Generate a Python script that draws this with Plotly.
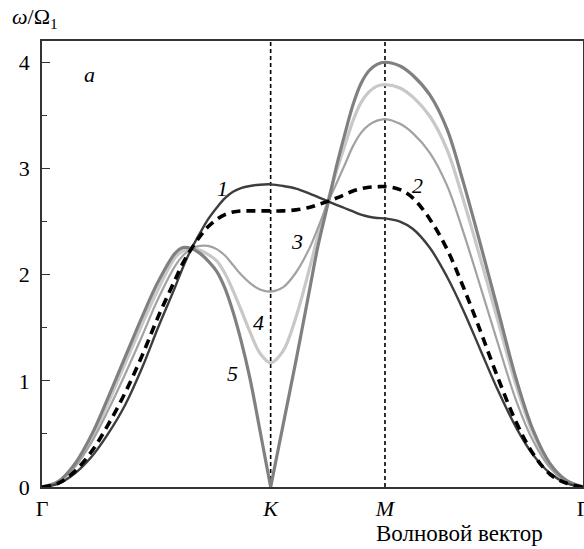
import plotly.graph_objects as go

# Path coordinate along Γ–K–M–Γ (|ΓK| = 4/3, |KM| = 2/3, |MΓ| = 2/√3)
q = [0.0, 0.0933, 0.1924, 0.2916, 0.3849, 0.4840, 0.5831, 0.6764, 0.7756, 0.8222,
     0.8718, 0.9213, 0.9680, 1.0187, 1.0671, 1.1138, 1.1604, 1.2129, 1.2712, 1.3333,
     1.4054, 1.4811, 1.5570, 1.6094, 1.6677, 1.7202, 1.7669, 1.8135, 1.8602, 1.9068,
     1.9535, 2.0,
     2.0875, 2.1634, 2.2625, 2.3617, 2.4550, 2.5541, 2.6532, 2.7681, 2.8649, 2.9623,
     3.0597, 3.1547]
K_INDEX = 19

tick_pos = [0.0, 1.3333, 2.0, 3.1547]
tick_text = ["Γ", "<i>K</i>", "<i>M</i>", "Γ"]

curve1 = [0, 0.03, 0.13, 0.29, 0.50, 0.77, 1.12, 1.50, 1.88, 2.07,
          2.245, 2.39, 2.52, 2.63, 2.72, 2.78, 2.815, 2.835, 2.847, 2.85,
          2.835, 2.81, 2.765, 2.73, 2.69, 2.655, 2.625, 2.595, 2.565, 2.545, 2.533, 2.53,
          2.50, 2.43, 2.25, 1.98, 1.67, 1.30, 0.93, 0.55, 0.30, 0.13, 0.035, 0]
curve2 = [0, 0.034, 0.15, 0.34, 0.585, 0.885, 1.235, 1.60, 1.95, 2.11,
          2.245, 2.36, 2.45, 2.52, 2.565, 2.59, 2.60, 2.60, 2.60, 2.60,
          2.60, 2.61, 2.632, 2.659, 2.69, 2.723, 2.755, 2.788, 2.809, 2.822, 2.827, 2.829,
          2.80, 2.72, 2.52, 2.24, 1.89, 1.48, 1.05, 0.60, 0.31, 0.12, 0.035, 0]
curve3 = [0, 0.043, 0.19, 0.43, 0.72, 1.06, 1.42, 1.77, 2.08, 2.18,
          2.245, 2.27, 2.27, 2.24, 2.18, 2.09, 2.00, 1.92, 1.86, 1.84,
          1.88, 2.02, 2.24, 2.44, 2.68, 2.87, 3.04, 3.21, 3.335, 3.41, 3.45, 3.465,
          3.42, 3.33, 3.145, 2.84, 2.41, 1.90, 1.38, 0.80, 0.43, 0.18, 0.05, 0]
curve4 = [0, 0.047, 0.21, 0.47, 0.79, 1.16, 1.53, 1.86, 2.16, 2.225,
          2.245, 2.23, 2.19, 2.13, 2.01, 1.85, 1.67, 1.46, 1.26, 1.17,
          1.28, 1.60, 2.04, 2.37, 2.70, 2.99, 3.22, 3.45, 3.62, 3.72, 3.775, 3.79,
          3.758, 3.671, 3.489, 3.178, 2.714, 2.164, 1.596, 0.939, 0.499, 0.208, 0.057, 0]
curve5 = [0, 0.05, 0.22, 0.50, 0.84, 1.22, 1.60, 1.93, 2.20, 2.255,
          2.245, 2.20, 2.13, 2.03, 1.87, 1.65, 1.38, 1.02, 0.53, 0,
          0.58, 1.19, 1.83, 2.27, 2.67, 3.04, 3.33, 3.60, 3.80, 3.92, 3.98, 4.00,
          3.965, 3.875, 3.69, 3.37, 2.88, 2.30, 1.70, 1.00, 0.53, 0.22, 0.06, 0]

labels = ["1", "2", "3", "4", "5"]
label_x = [1.0496, 2.187, 1.487, 1.265, 1.108]
label_y = [2.81, 2.84, 2.31, 1.55, 1.07]

SERIF = "Liberation Serif"

fig = go.Figure()

def add(xs, ys, color, width, dash="solid"):
    fig.add_trace(go.Scatter(x=xs, y=ys, mode="lines",
                             line=dict(color=color, width=width, dash=dash,
                                       shape="spline", smoothing=1.0),
                             showlegend=False, hoverinfo="skip"))

add(q, curve4, "#c8c8c8", 3.2)
add(q, curve3, "#a2a2a2", 2.2)
add(q[:K_INDEX + 1], curve5[:K_INDEX + 1], "#808080", 3.2)
add(q[K_INDEX:], curve5[K_INDEX:], "#808080", 3.2)
add(q, curve1, "#3d3d3d", 2.4)
add(q, curve2, "#000000", 3.6, dash="9px,6px")

for xv in [tick_pos[1], tick_pos[2]]:
    fig.add_shape(type="line", x0=xv, x1=xv, y0=0, y1=4.2, xref="x", yref="y",
                  line=dict(color="black", width=1.6, dash="4px,3px"), layer="below")

for t, xv, yv in zip(labels, label_x, label_y):
    fig.add_annotation(x=xv, y=yv, xref="x", yref="y", text="<i>%s</i>" % t,
                       showarrow=False, xanchor="center", yanchor="middle",
                       font=dict(family=SERIF, size=22, color="black"))

fig.add_annotation(x=-0.013, y=1.052, xref="paper", yref="paper",
                   text="<i>ω</i>/Ω<sub>1</sub>", showarrow=False,
                   xanchor="center", yanchor="middle",
                   font=dict(family=SERIF, size=22, color="black"))
fig.add_annotation(x=0.0887, y=0.924, xref="paper", yref="paper",
                   text="<i>a</i>", showarrow=False,
                   xanchor="center", yanchor="middle",
                   font=dict(family=SERIF, size=22, color="black"))
fig.add_annotation(x=0.7726, y=-0.104, xref="paper", yref="paper",
                   text="Волновой вектор", showarrow=False,
                   xanchor="center", yanchor="middle",
                   font=dict(family=SERIF, size=23, color="black"))

fig.update_layout(
    width=584, height=549, autosize=False,
    margin=dict(l=42, r=1, t=41, b=62),
    paper_bgcolor="white", plot_bgcolor="white",
    xaxis=dict(range=[0, 3.1547], showgrid=False, zeroline=False, automargin=False,
               showline=True, mirror=True, linecolor="#333333", linewidth=1.5,
               tickmode="array", tickvals=tick_pos, ticktext=tick_text, ticks="",
               tickfont=dict(family=SERIF, size=22, color="black"),
               ticklabelstandoff=1, ticklabeloverflow="allow"),
    yaxis=dict(range=[0, 4.2], showgrid=False, zeroline=False, automargin=False,
               showline=True, mirror=True, linecolor="#333333", linewidth=1.5,
               tickmode="array", tickvals=[0, 1, 2, 3, 4],
               ticks="inside", ticklen=8, tickwidth=1.3, tickcolor="#333333",
               minor=dict(tickvals=[0.5, 1.5, 2.5, 3.5], ticks="inside",
                          ticklen=5, tickwidth=1.1, tickcolor="#333333", showgrid=False),
               tickfont=dict(family=SERIF, size=22, color="black"),
               ticklabelstandoff=6),
)

fig.write_html("out.html")
